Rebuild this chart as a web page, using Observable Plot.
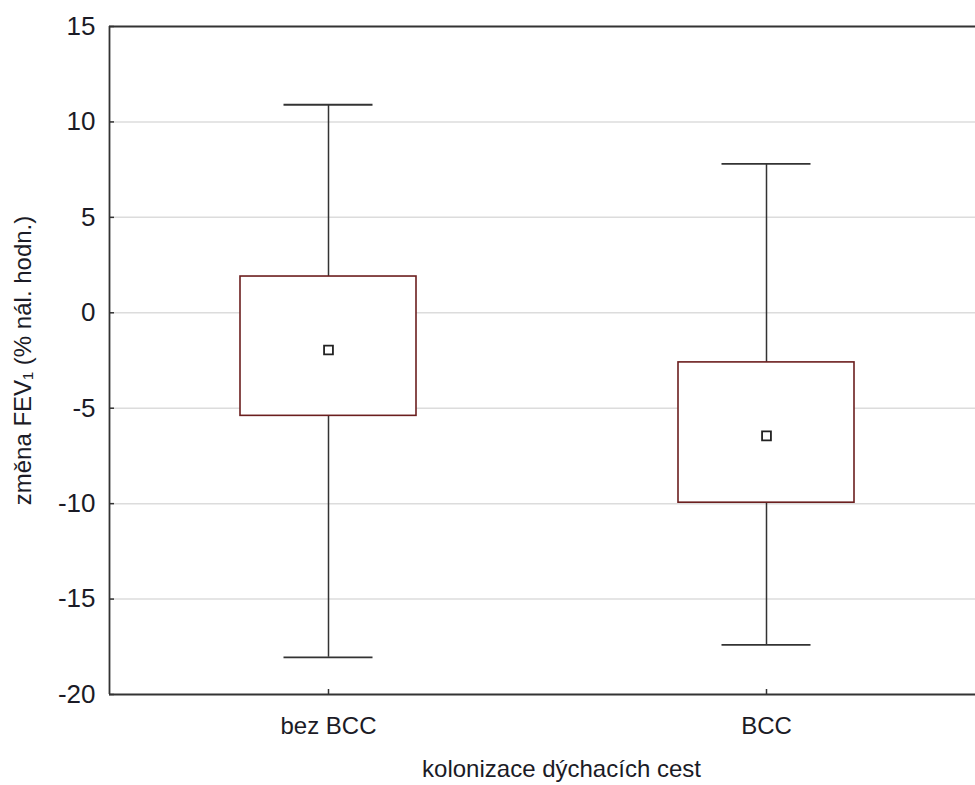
<!DOCTYPE html>
<html>
<head>
<meta charset="utf-8">
<script src="https://cdn.jsdelivr.net/npm/d3@7"></script>
<script src="https://cdn.jsdelivr.net/npm/@observablehq/plot@0.6"></script>
<style>
  html, body { margin: 0; padding: 0; background: #fff; }
  svg { display: block; }
</style>
</head>
<body>
<div id="chart"></div>
<script>
const groups = ["bez BCC", "BCC"];
const means = [-1.95, -6.45];
const boxLow = [-5.4, -9.95];
const boxHigh = [1.9, -2.6];
const whiskerLow = [-18.05, -17.4];
const whiskerHigh = [10.9, 7.8];
const yTicks = [-20, -15, -10, -5, 0, 5, 10, 15];
const gridTicks = [-15, -10, -5, 0, 5, 10];
const yLabel = "změna FEV₁ (% nál. hodn.)";
const xLabel = "kolonizace dýchacích cest";

const data = groups.map((g, i) => ({
  g, mean: means[i], lo: boxLow[i], hi: boxHigh[i], wlo: whiskerLow[i], whi: whiskerHigh[i]
}));

const W = 975, H = 785, ML = 109, MR = 0, MT = 26, MB = 91;
const frameW = W - ML - MR, frameH = H - MT - MB;
const ink = "#333";
const textInk = "#1b1b26";

const chart = Plot.plot({
  width: W, height: H,
  marginLeft: ML, marginRight: MR, marginTop: MT, marginBottom: MB,
  style: { fontFamily: "'Liberation Sans', Arial, sans-serif", background: "#fff", color: textInk },
  x: { type: "band", domain: groups, range: [109, 985], paddingInner: 0.598, paddingOuter: 0.299 },
  y: { domain: [-20, 15] },
  marks: [
    Plot.ruleY(gridTicks, { y: d => d, stroke: "#dcdcdc", strokeWidth: 1.5 }),
    Plot.ruleX(data, { x: "g", y1: "wlo", y2: "whi", stroke: ink, strokeWidth: 1.5 }),
    Plot.tickY(data, { x: "g", y: "wlo", stroke: ink, strokeWidth: 1.8, inset: 43.5 }),
    Plot.tickY(data, { x: "g", y: "whi", stroke: ink, strokeWidth: 1.8, inset: 43.5 }),
    Plot.barY(data, { x: "g", y1: "lo", y2: "hi", fill: "#fff", stroke: "#6b1e1e", strokeWidth: 1.6 }),
    Plot.dot(data, { x: "g", y: "mean", symbol: "square", r: 5, fill: "#fff", stroke: "#222", strokeWidth: 1.8 }),
    Plot.tickY(yTicks, { y: d => d, stroke: ink, strokeWidth: 1.5, insetRight: frameW - 5 }),
    Plot.tickX(groups, { x: d => d, stroke: ink, strokeWidth: 1.5, insetTop: frameH - 5 }),
    Plot.ruleY([15, -20], { y: d => d, stroke: ink, strokeWidth: 1.8 }),
    Plot.ruleX([0], { x: null, y1: -20, y2: 15, dx: ML - (ML + W - MR) / 2, stroke: ink, strokeWidth: 1.8 }),
    Plot.axisY(yTicks, { tickSize: 0, tickPadding: 14, fontSize: 26, tickFormat: d => String(d), label: null }),
    Plot.axisX(groups, { tickSize: 0, tickPadding: 22, fontSize: 24, label: null }),
    Plot.text([yLabel], { frameAnchor: "left", dx: -86, rotate: -90, fontSize: 24, textAnchor: "middle", lineAnchor: "middle", text: d => d }),
    Plot.text([xLabel], { frameAnchor: "bottom", dx: 19, dy: 75, fontSize: 24, textAnchor: "middle", lineAnchor: "middle", text: d => d })
  ]
});
document.getElementById("chart").appendChild(chart);
</script>
</body>
</html>
